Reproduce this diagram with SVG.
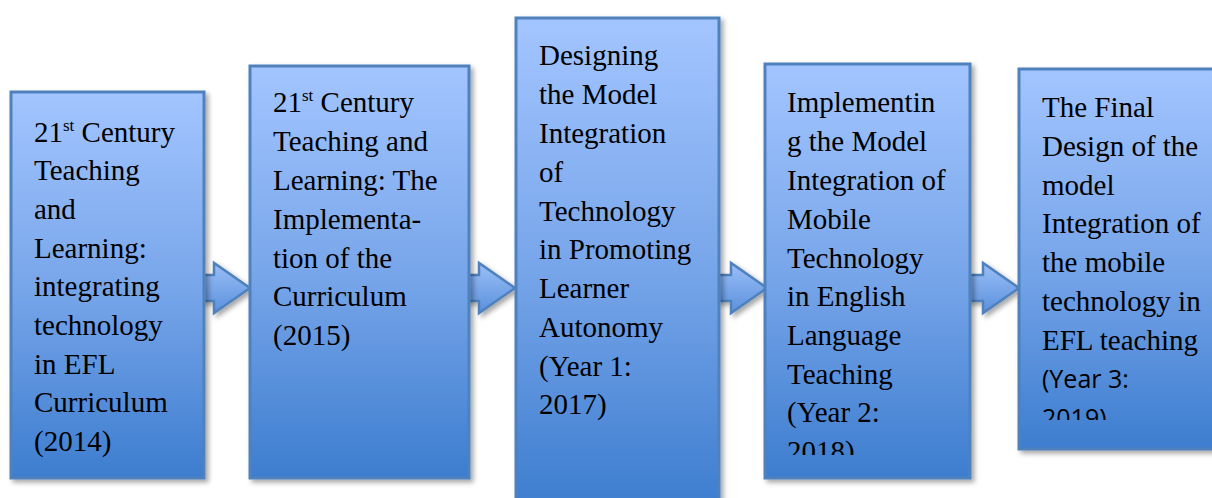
<svg xmlns="http://www.w3.org/2000/svg" width="1212" height="498" viewBox="0 0 1212 498">
  <defs>
    <linearGradient id="boxFill" x1="0" y1="0" x2="0" y2="1">
      <stop offset="0" stop-color="#a3c5ff"/>
      <stop offset="0.5" stop-color="#78a6ea"/>
      <stop offset="1" stop-color="#3d7dcf"/>
    </linearGradient>
    <linearGradient id="arrowFill" x1="0" y1="0" x2="0" y2="1">
      <stop offset="0" stop-color="#9bbff8"/>
      <stop offset="1" stop-color="#5a90dc"/>
    </linearGradient>
    <filter id="shadow" x="-10%" y="-10%" width="130%" height="130%">
      <feDropShadow dx="3" dy="3" stdDeviation="2.5" flood-color="#000" flood-opacity="0.35"/>
    </filter>
    <clipPath id="clip4"><rect x="764" y="63" width="206" height="392"/></clipPath>
    <clipPath id="clip5"><rect x="1018" y="68" width="194" height="352"/></clipPath>
  </defs>
  <style>
    .box { fill: url(#boxFill); stroke: #4f81bd; stroke-width: 3; filter: url(#shadow); }
    .arrow { fill: url(#arrowFill); stroke: #4f81bd; stroke-width: 2.5; stroke-linejoin: miter; filter: url(#shadow); }
    .t { font-family: "Liberation Serif", "Times New Roman", serif; font-size: 29px; fill: #000; }
    .s { font-family: "Open Sans", "Liberation Sans", sans-serif; font-size: 25px; fill: #000; }
    .sup { font-size: 17px; }
  </style>

  <rect width="1212" height="498" fill="#fff"/>

  <!-- connectors: block arrows between stages -->
  <g id="connectors">
    <path class="arrow" d="M200,275 H214 V263 L250,288 L214,313 V301 H200 Z"/>
    <path class="arrow" d="M466,275 H479 V263 L515,288 L479,313 V301 H466 Z"/>
    <path class="arrow" d="M717,275 H731 V263 L767,288 L731,313 V301 H717 Z"/>
    <path class="arrow" d="M968,275 H983 V263 L1019,288 L983,313 V301 H968 Z"/>
  </g>

  <g id="stage-2014">
    <rect class="box" x="11" y="92" width="193" height="386"/>
    <text class="t">
      <tspan x="34" y="142">21<tspan class="sup" dy="-11">st</tspan><tspan dy="11"> Century</tspan></tspan>
      <tspan x="34" y="180">Teaching</tspan>
      <tspan x="34" y="219">and</tspan>
      <tspan x="34" y="258">Learning:</tspan>
      <tspan x="34" y="296">integrating</tspan>
      <tspan x="34" y="335">technology</tspan>
      <tspan x="34" y="374">in EFL</tspan>
      <tspan x="34" y="412">Curriculum</tspan>
      <tspan x="34" y="451">(2014)</tspan>
    </text>
  </g>

  <g id="stage-2015">
    <rect class="box" x="250" y="66" width="219" height="412"/>
    <text class="t">
      <tspan x="273" y="112">21<tspan class="sup" dy="-11">st</tspan><tspan dy="11"> Century</tspan></tspan>
      <tspan x="273" y="151">Teaching and</tspan>
      <tspan x="273" y="190">Learning: The</tspan>
      <tspan x="273" y="229">Implementa-</tspan>
      <tspan x="273" y="268">tion of the</tspan>
      <tspan x="273" y="306">Curriculum</tspan>
      <tspan x="273" y="345">(2015)</tspan>
    </text>
  </g>

  <g id="stage-2017">
    <rect class="box" x="516" y="18" width="203" height="490"/>
    <text class="t">
      <tspan x="539" y="65">Designing</tspan>
      <tspan x="539" y="104">the Model</tspan>
      <tspan x="539" y="143">Integration</tspan>
      <tspan x="539" y="182">of</tspan>
      <tspan x="539" y="221">Technology</tspan>
      <tspan x="539" y="259">in Promoting</tspan>
      <tspan x="539" y="298">Learner</tspan>
      <tspan x="539" y="337">Autonomy</tspan>
      <tspan x="539" y="376">(Year 1:</tspan>
      <tspan x="539" y="414">2017)</tspan>
    </text>
  </g>

  <g id="stage-2018">
    <rect class="box" x="765" y="64" width="205" height="414"/>
    <text class="t" clip-path="url(#clip4)">
      <tspan x="787" y="112">Implementin</tspan>
      <tspan x="787" y="151">g the Model</tspan>
      <tspan x="787" y="190">Integration of</tspan>
      <tspan x="787" y="229">Mobile</tspan>
      <tspan x="787" y="268">Technology</tspan>
      <tspan x="787" y="306">in English</tspan>
      <tspan x="787" y="345">Language</tspan>
      <tspan x="787" y="384">Teaching</tspan>
      <tspan x="787" y="422">(Year 2:</tspan>
      <tspan x="787" y="461">2018)</tspan>
    </text>
  </g>

  <g id="stage-2019">
    <rect class="box" x="1019" y="69" width="200" height="380"/>
    <text class="t" clip-path="url(#clip5)">
      <tspan x="1042" y="117">The Final</tspan>
      <tspan x="1042" y="156">Design of the</tspan>
      <tspan x="1042" y="195">model</tspan>
      <tspan x="1042" y="233">Integration of</tspan>
      <tspan x="1042" y="272">the mobile</tspan>
      <tspan x="1042" y="311">technology in</tspan>
      <tspan x="1042" y="350">EFL teaching</tspan>
    </text>
    <text class="s" clip-path="url(#clip5)">
      <tspan x="1042" y="388">(Year 3:</tspan>
      <tspan x="1042" y="427">2019)</tspan>
    </text>
  </g>
</svg>
